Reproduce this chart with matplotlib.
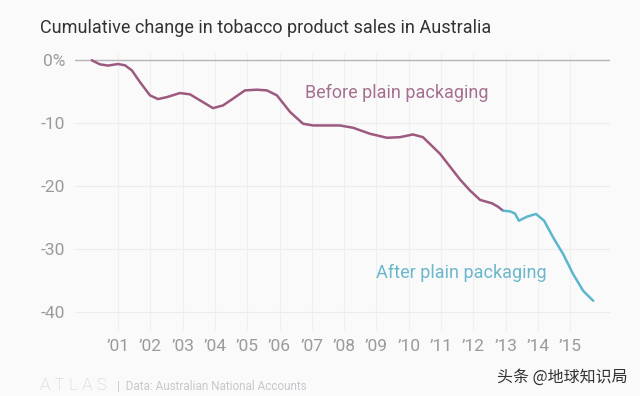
import matplotlib.pyplot as plt

plt.rcParams['font.family'] = ['Roboto', 'DejaVu Sans']

# cumulative change (%), x in fractional years
years = [2000.19, 2000.44, 2000.69, 2001.0, 2001.22, 2001.43, 2001.68, 2001.99,
         2002.24, 2002.52, 2002.92, 2003.23, 2003.63, 2003.94, 2004.25, 2004.56,
         2004.93, 2005.3, 2005.61, 2005.92, 2006.33, 2006.73, 2007.04, 2007.87,
         2008.28, 2008.8, 2009.33, 2009.73, 2010.13, 2010.44, 2010.97, 2011.59,
         2011.9, 2012.21, 2012.58, 2012.76, 2012.92, 2013.14, 2013.29, 2013.41,
         2013.66, 2013.94, 2014.19, 2014.47, 2014.78, 2015.09, 2015.4, 2015.71]
change = [0, -0.64, -0.84, -0.59, -0.8, -1.6, -3.45, -5.57,
          -6.16, -5.84, -5.2, -5.41, -6.64, -7.6, -7.17, -6.1,
          -4.78, -4.67, -4.78, -5.57, -8.23, -10.08, -10.35, -10.35,
          -10.72, -11.67, -12.31, -12.21, -11.78, -12.21, -14.86, -18.95,
          -20.7, -22.18, -22.72, -23.25, -23.89, -24.0, -24.36, -25.48,
          -24.84, -24.41, -25.48, -28.14, -30.78, -33.97, -36.62, -38.2]
split = 36  # index where plain packaging starts (Dec 2012)

tick_years = list(range(2001, 2016))
tick_labels = ["\u2019%02d" % (y % 100) for y in tick_years]
y_ticks = [0, -10, -20, -30, -40]
y_labels = ["0%", "-10", "-20", "-30", "-40"]

bg = "#fafafb"
before_c = "#9c5a7f"
after_c = "#5cb6cc"

fig = plt.figure(figsize=(6.4, 3.96), dpi=100, facecolor=bg)
ax = fig.add_axes([75 / 640, 1 - 331 / 396, 535 / 640, 277 / 396], facecolor=bg)

ax.plot(years[:split + 1], change[:split + 1], color=before_c, lw=1.8,
        solid_capstyle="round", solid_joinstyle="round", zorder=3)
ax.plot(years[split:], change[split:], color=after_c, lw=1.8,
        solid_capstyle="round", solid_joinstyle="round", zorder=3)

ax.set_xlim(1999.67, 2016.23)
ax.set_ylim(-43, 1)

for y in y_ticks[1:]:
    ax.axhline(y, color="#ececee", lw=0.8, zorder=1)
ax.axhline(0, color="#b5b5b5", lw=1.0, zorder=2)
for x in tick_years:
    ax.axvline(x, color="#efeff1", lw=0.8, zorder=1)

ax.set_xticks(tick_years)
ax.set_xticklabels(tick_labels)
ax.set_yticks(y_ticks)
ax.set_yticklabels(y_labels)
ax.tick_params(length=0, labelsize=12.5, colors="#9a9a9a")
ax.tick_params(axis="x", pad=6)
ax.tick_params(axis="y", pad=7)
for s in ax.spines.values():
    s.set_visible(False)

ax.text(2006.79, -5.2, "Before plain packaging", color="#a5708f", fontsize=13,
        va="center", ha="left")
ax.text(2008.99, -33.8, "After plain packaging", color="#6bb7cb", fontsize=13,
        va="center", ha="left")

fig.text(40 / 640, 1 - 28 / 396, "Cumulative change in tobacco product sales in Australia",
         color="#333333", fontsize=13, va="center", ha="left")

fig.text(40 / 640, 1 - 385 / 396, "A T L A S", color="#d0d0d4", fontsize=12.5,
         va="center", ha="left", fontweight="light")
fig.text(117 / 640, 1 - 386 / 396, "|  Data: Australian National Accounts", color="#c8c8cc",
         fontsize=8.5, va="center", ha="left")
fig.text(628 / 640, 1 - 377 / 396, "头条 @地球知识局", color="#333333", fontsize=11.5,
         va="center", ha="right", family=["Noto Sans CJK SC", "DejaVu Sans"])

fig.savefig("out.png", dpi=100, facecolor=bg)
